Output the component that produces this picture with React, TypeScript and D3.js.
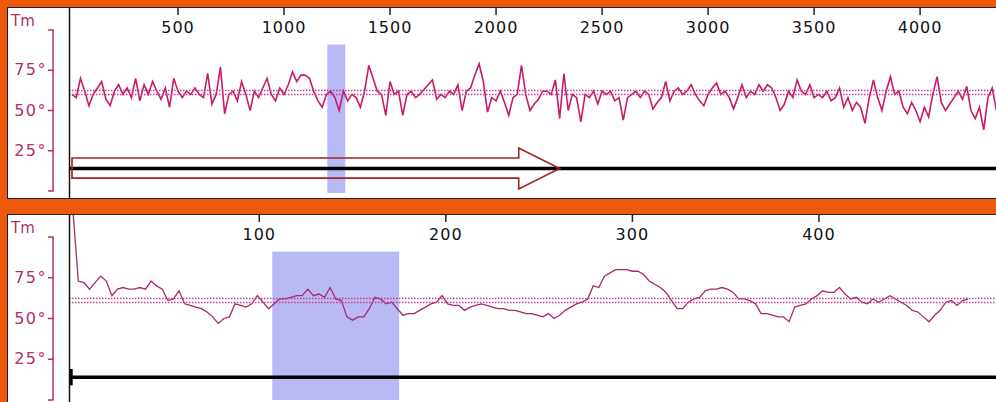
import { useEffect } from 'react';
import * as d3 from 'd3';

// upper panel: whole sequence, one value every 20 positions
const overviewStep = 20;
const overviewTm = [
  60, 58, 70, 62, 53, 60, 64, 68, 57, 53,
  62, 66, 60, 64, 58, 70, 56, 66, 60, 68,
  62, 57, 64, 52, 70, 62, 58, 62, 60, 64,
  60, 58, 73, 54, 60, 77, 48, 60, 62, 56,
  68, 60, 50, 62, 58, 64, 70, 60, 56, 64,
  60, 66, 74, 68, 72, 72, 70, 62, 56, 52,
  60, 62, 58, 50, 62, 56, 60, 58, 52, 62,
  78, 70, 62, 60, 47, 68, 60, 62, 47, 60,
  62, 58, 60, 63, 66, 69, 57, 60, 58, 62,
  60, 66, 50, 62, 64, 72, 79, 68, 49, 58,
  56, 62, 55, 47, 58, 60, 78, 60, 50, 54,
  57, 62, 62, 60, 69, 45, 73, 50, 60, 58,
  43, 60, 58, 62, 54, 62, 60, 62, 56, 58,
  44, 58, 60, 62, 58, 62, 60, 51, 55, 58,
  68, 56, 62, 64, 60, 62, 66, 60, 56, 53,
  60, 64, 67, 60, 62, 58, 51, 58, 66, 58,
  62, 60, 66, 62, 66, 64, 58, 50, 54, 62,
  58, 69, 62, 60, 66, 58, 60, 58, 62, 56,
  58, 64, 52, 58, 50, 55, 52, 42, 58, 69,
  58, 50, 62, 71, 60, 62, 52, 48, 55, 50,
  43, 52, 46, 60, 71, 55, 50, 54, 58, 62,
  57, 65, 50, 45, 52, 38, 58, 64, 50, 48,
];

// lower panel: zoomed window, one value every 3 positions
const detailStep = 3;
const detailTm = [
  118, 73, 72, 68, 72, 76, 73, 64, 68, 69,
  68, 68, 69, 68, 73, 70, 68, 61, 62, 67,
  59, 58, 57, 56, 54, 51, 47, 50, 51, 59,
  58, 57, 59, 64, 60, 56, 59, 62, 62, 63,
  64, 64, 68, 64, 65, 63, 69, 62, 61, 51,
  49, 51, 51, 56, 63, 62, 59, 60, 56, 52,
  53, 53, 55, 57, 59, 60, 64, 59, 58, 58,
  55, 57, 58, 59, 58, 57, 56, 56, 55, 55,
  54, 53, 53, 52, 51, 53, 50, 52, 55, 57,
  59, 60, 62, 70, 69, 76, 78, 80, 80, 80,
  79, 79, 77, 73, 71, 69, 66, 61, 56, 56,
  60, 62, 63, 67, 68, 68, 69, 68, 66, 62,
  62, 61, 59, 53, 53, 52, 51, 51, 48, 57,
  58, 59, 62, 64, 67, 66, 66, 69, 65, 62,
  63, 60, 59, 62, 60, 62, 64, 62, 60, 58,
  55, 54, 51, 48, 52, 55, 60, 61, 58, 61,
  62,
];

const overviewTicks = [500, 1000, 1500, 2000, 2500, 3000, 3500, 4000];
const detailTicks = [100, 200, 300, 400];
const tmTicks = [25, 50, 75];
const refLines = [60, 62.7];
const trackTm = 14;

// selections (blue bands) in each panel's own positions
const overviewWindow = [1204, 1289];
const detailWindow = [107, 175];

// hollow arrow in the upper panel: [start, head start, tip] and its Tm levels
const arrowPos = [0, 2107, 2300];
const arrowShaft = [8, 20.5];
const arrowHead = [1.2, 26.7];

const ORANGE = '#ee5a0c';
const LINE = '#c81a6c';
const LABEL = '#b0306e';
const BLUE = '#b9b9f6';

type PanelProps = {
  top: number;
  bottom: number;
  x: d3.ScaleLinear<number, number>;
  y: d3.ScaleLinear<number, number>;
  ticks: number[];
  id: string;
  children?: any;
};

function Panel({ top, bottom, x, y, ticks, id, children }: PanelProps) {
  const [y0, y1] = y.range();
  return (
    <g>
      <rect x={7.5} y={top + 0.5} width={1000} height={bottom - top} fill="#fff" stroke="#222" />
      <clipPath id={id}>
        <rect x={70} y={top + 1} width={930} height={bottom - top - 1} />
      </clipPath>

      {/* Tm axis bracket */}
      <text x={11} y={top + 19} fontSize={15} fill={LABEL} fontFamily="DejaVu Sans">Tm</text>
      <line x1={53} x2={53} y1={y1} y2={y0} stroke={LABEL} strokeWidth={1.5} />
      {[0, ...tmTicks, 100].map(t => (
        <line key={t} x1={48} x2={53.7} y1={y(t)} y2={y(t)} stroke={LABEL} strokeWidth={1.5} />
      ))}
      {tmTicks.map(t => (
        <text key={t} x={47} y={y(t) + 5} fontSize={16} fill={LABEL} textAnchor="end"
          fontFamily="DejaVu Sans" letterSpacing={1.5}>{t}°</text>
      ))}

      {/* position ticks */}
      {ticks.map(t => (
        <g key={t}>
          <line x1={x(t)} x2={x(t)} y1={top} y2={top + 8} stroke="#222" strokeWidth={1.5} />
          <text x={x(t)} y={top + 26} fontSize={16} textAnchor="middle" fill="#111"
            fontFamily="DejaVu Sans" letterSpacing={1}>{t}</text>
        </g>
      ))}

      <g clipPath={`url(#${id})`}>
        {children}
        {refLines.map(r => (
          <line key={r} x1={69} x2={996} y1={Math.round(y(r)) + 0.5} y2={Math.round(y(r)) + 0.5}
            stroke="#c0448a" strokeWidth={1.3} strokeDasharray="1.5,1.5" />
        ))}
      </g>

      <line x1={69.5} x2={69.5} y1={top} y2={bottom + 1} stroke="#111" strokeWidth={1.5} />
    </g>
  );
}

export default function App() {
  useEffect(() => {
    document.body.style.margin = '0';
  }, []);

  const xTop = d3.scaleLinear().domain([0, 4358]).range([72, 996]);
  const yTop = d3.scaleLinear().domain([0, 100]).range([191, 30]);
  const xBot = d3.scaleLinear().domain([0, 495]).range([72.7, 996.2]);
  const yBot = d3.scaleLinear().domain([0, 100]).range([400, 237]);

  const topLine = d3.line<number>()
    .x((_, i) => xTop(i * overviewStep))
    .y(d => yTop(d));
  const botLine = d3.line<number>()
    .x((_, i) => xBot(i * detailStep))
    .y(d => yBot(d));

  const [a0, a1, a2] = arrowPos;
  const arrowPts: [number, number][] = [
    [a0, arrowShaft[1]], [a1, arrowShaft[1]], [a1, arrowHead[1]], [a2, trackTm],
    [a1, arrowHead[0]], [a1, arrowShaft[0]], [a0, arrowShaft[0]],
  ];
  const arrowPath = d3.line<[number, number]>()
    .x(d => xTop(d[0]))
    .y(d => yTop(d[1]))(arrowPts) + 'Z';

  return (
    <svg width={996} height={402} style={{ display: 'block', background: ORANGE }}>
      <rect width={996} height={402} fill={ORANGE} />

      <Panel top={7} bottom={198} x={xTop} y={yTop} ticks={overviewTicks} id="clipTop">
        <rect x={xTop(overviewWindow[0])} width={xTop(overviewWindow[1]) - xTop(overviewWindow[0])}
          y={yTop(91)} height={yTop(-1.2) - yTop(91)} fill={BLUE} />
        <line x1={69} x2={996} y1={yTop(trackTm)} y2={yTop(trackTm)} stroke="#000" strokeWidth={3.5} />
        <path d={arrowPath} fill="none" stroke="#a02424" strokeWidth={1.6} />
        <path d={topLine(overviewTm) || ''} fill="none" stroke={LINE} strokeWidth={1.6} />
      </Panel>

      <Panel top={214} bottom={403} x={xBot} y={yBot} ticks={detailTicks} id="clipBot">
        <rect x={xBot(detailWindow[0])} width={xBot(detailWindow[1]) - xBot(detailWindow[0])}
          y={yBot(91)} height={yBot(0) - yBot(91)} fill={BLUE} />
        <line x1={69} x2={996} y1={yBot(trackTm)} y2={yBot(trackTm)} stroke="#000" strokeWidth={3.5} />
        <line x1={xBot(0) - 1.5} x2={xBot(0) - 1.5} y1={yBot(19)} y2={yBot(9)} stroke="#000" strokeWidth={3} />
        <path d={botLine(detailTm) || ''} fill="none" stroke="#a8286e" strokeWidth={1.3} />
      </Panel>
    </svg>
  );
}
